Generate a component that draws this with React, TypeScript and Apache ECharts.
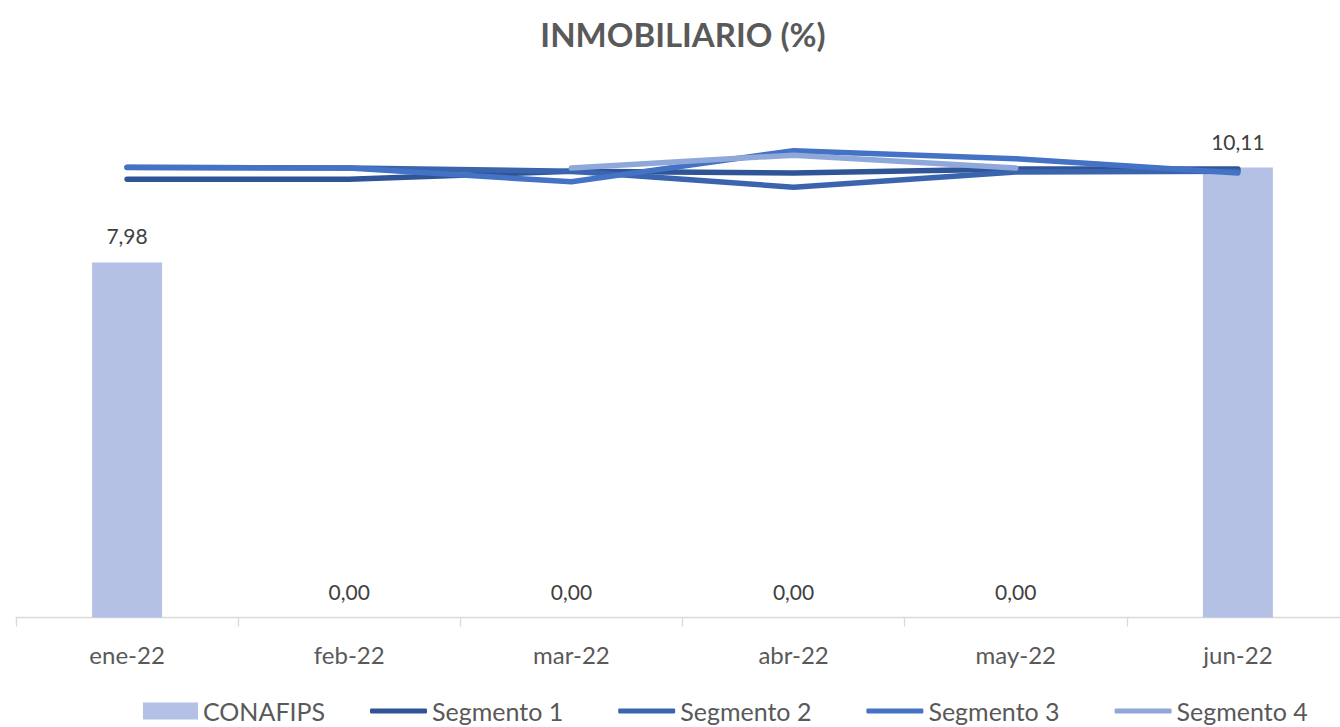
import React, { useEffect, useRef } from "react";
import * as echarts from "echarts";

const categories = ["ene-22", "feb-22", "mar-22", "abr-22", "may-22", "jun-22"];
const conafips = [7.98, 0, 0, 0, 0, 10.11];
const segmento1 = [9.85, 9.85, 10.03, 9.99, 10.08, 10.08];
const segmento2 = [10.11, 10.1, 10.03, 9.67, 10.01, 10.03];
const segmento3 = [10.12, 10.1, 9.79, 10.49, 10.31, 9.99];
const segmento4 = [null, null, 10.1, 10.39, 10.1, null];

const FONT = "Lato";

export default function App() {
  const ref = useRef<HTMLDivElement>(null);
  useEffect(() => {
    if (!ref.current) return;
    const chart = echarts.init(ref.current, undefined, { renderer: "svg" });
    const lineSeries = (name: string, data: (number | null)[], color: string) => ({
      name,
      type: "line",
      data,
      symbol: "none",
      connectNulls: false,
      lineStyle: { width: 5.5, color, cap: "round", join: "round" },
      itemStyle: { color },
      z: 3,
    });
    chart.setOption({
      animation: false,
      textStyle: { fontFamily: FONT },
      title: {
        text: "INMOBILIARIO (%)",
        left: 678,
        top: 12,
        textAlign: "center",
        textStyle: { fontFamily: FONT, fontSize: 33, fontWeight: "bold", color: "#595959" },
      },
      grid: {
        left: 16,
        width: 1333,
        top: 83.5,
        bottom: 109.5,
        containLabel: false,
        outerBoundsMode: "none",
      },
      xAxis: {
        type: "category",
        data: categories,
        boundaryGap: true,
        axisLine: { lineStyle: { color: "#d9d9d9", width: 1.3 } },
        axisTick: { show: true, length: 9, lineStyle: { color: "#d9d9d9", width: 1.3 } },
        axisLabel: { fontFamily: FONT, fontSize: 24, color: "#595959", margin: 25 },
      },
      yAxis: {
        type: "value",
        min: 0,
        max: 12,
        show: false,
        splitLine: { show: false },
      },
      legend: [
        {
          data: ["CONAFIPS"],
          left: 143,
          top: 698,
          padding: 0,
          icon: "rect",
          itemWidth: 55,
          itemHeight: 17,
          textStyle: { fontFamily: FONT, fontSize: 25, color: "#595959", lineHeight: 26 },
        },
        {
          data: ["Segmento 1", "Segmento 2", "Segmento 3", "Segmento 4"],
          left: 370,
          top: 698,
          padding: 0,
          icon: "roundRect",
          itemWidth: 57,
          itemHeight: 5,
          itemGap: 55,
          textStyle: { fontFamily: FONT, fontSize: 25, color: "#595959", lineHeight: 26 },
        },
      ],
      series: [
        {
          name: "CONAFIPS",
          type: "bar",
          data: conafips,
          barWidth: 70,
          itemStyle: { color: "#B4C1E4" },
          z: 2,
          label: {
            show: true,
            position: "top",
            distance: 16,
            fontFamily: FONT,
            fontSize: 21,
            color: "#404040",
            formatter: (p: any) => Number(p.value).toFixed(2).replace(".", ","),
          },
        },
        lineSeries("Segmento 1", segmento1, "#2F5597"),
        lineSeries("Segmento 2", segmento2, "#3A65AE"),
        lineSeries("Segmento 3", segmento3, "#4472C4"),
        lineSeries("Segmento 4", segmento4, "#8FA8DA"),
      ],
    });
    return () => chart.dispose();
  }, []);
  return (
    <div
      ref={ref}
      style={{ position: "fixed", left: 0, top: 0, width: 1340, height: 727, background: "#fff" }}
    />
  );
}
